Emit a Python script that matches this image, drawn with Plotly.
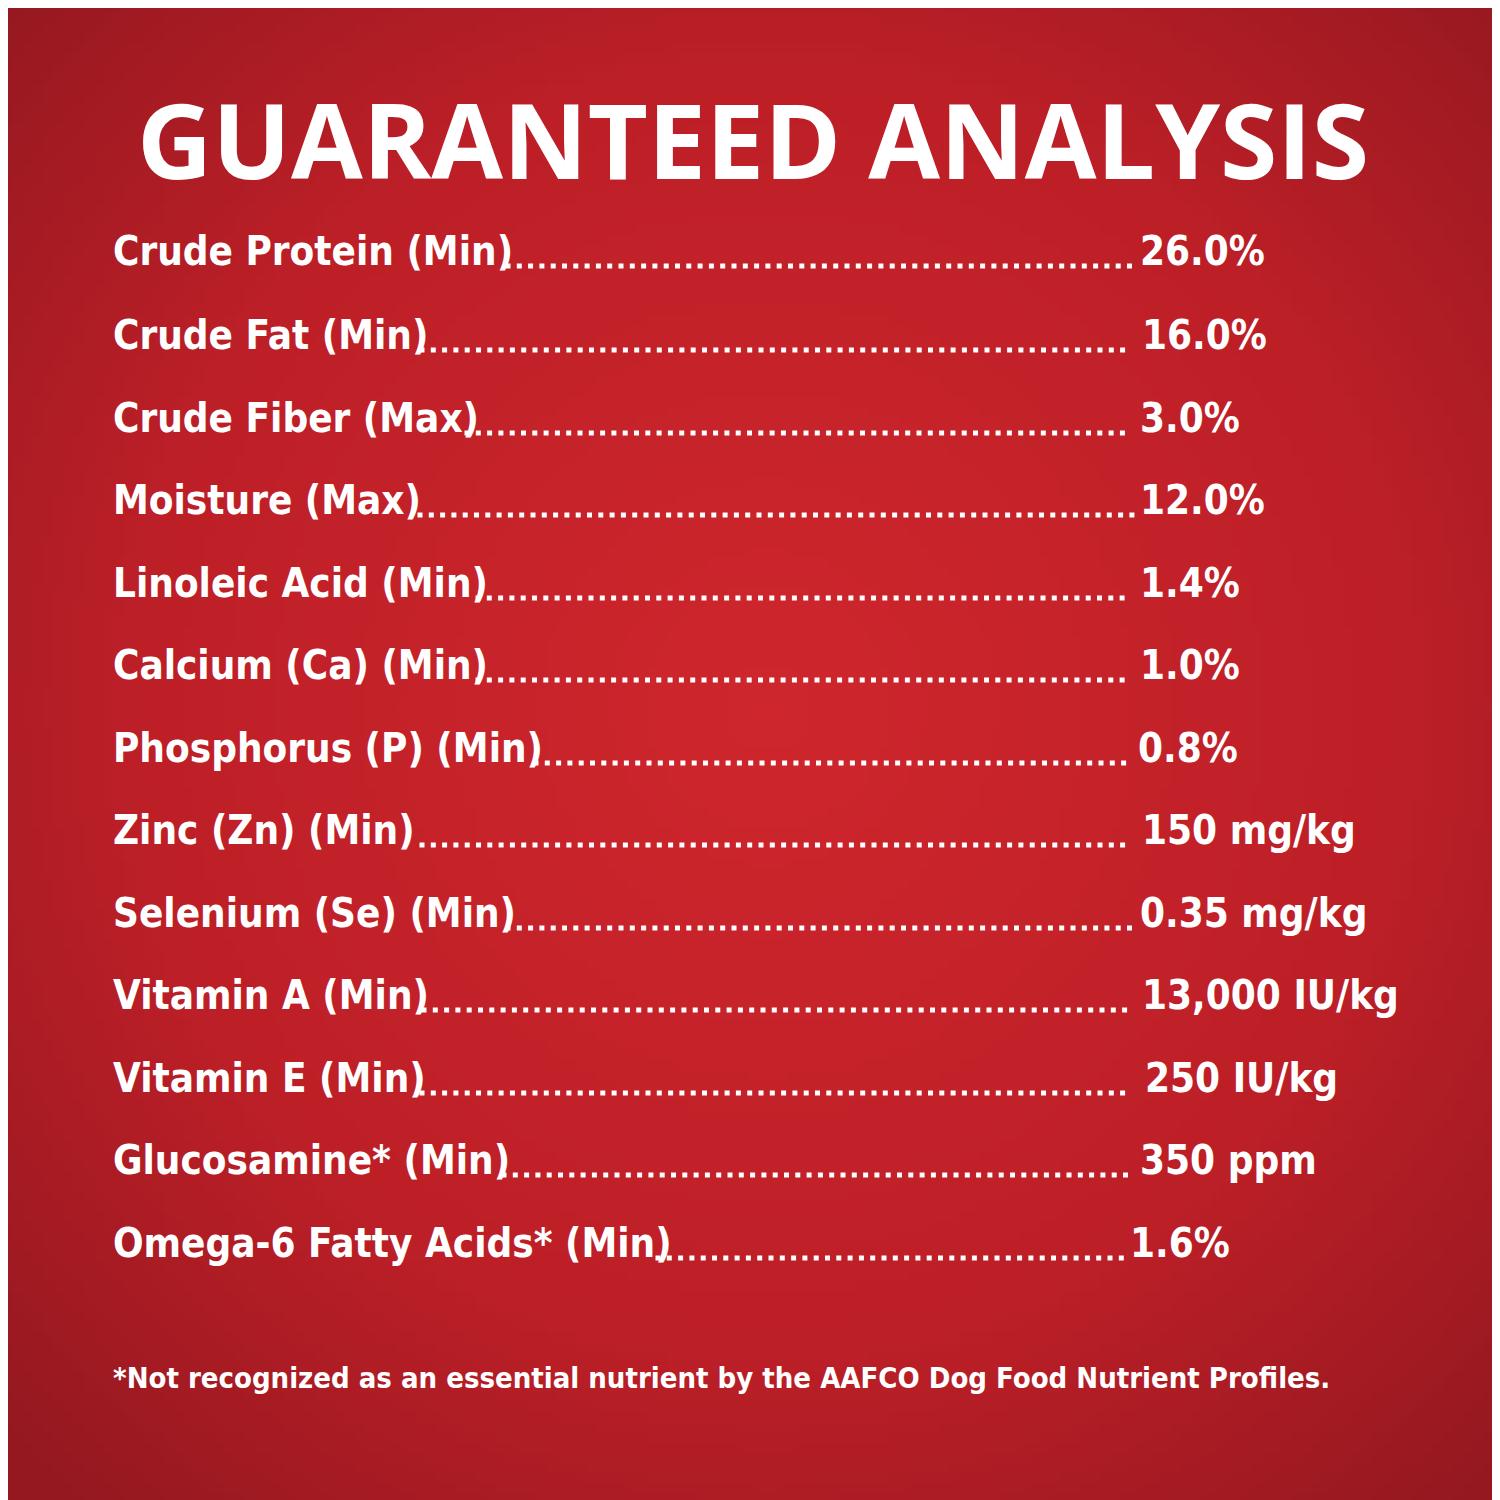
import numpy as np
import plotly.graph_objects as go

title = "GUARANTEED ANALYSIS"
labels = ["Crude Protein (Min)", "Crude Fat (Min)", "Crude Fiber (Max)", "Moisture (Max)",
          "Linoleic Acid (Min)", "Calcium (Ca) (Min)", "Phosphorus (P) (Min)", "Zinc (Zn) (Min)",
          "Selenium (Se) (Min)", "Vitamin A (Min)", "Vitamin E (Min)", "Glucosamine* (Min)",
          "Omega-6 Fatty Acids* (Min)"]
values = ["26.0%", "16.0%", "3.0%", "12.0%", "1.4%", "1.0%", "0.8%", "150 mg/kg",
          "0.35 mg/kg", "13,000 IU/kg", "250 IU/kg", "350 ppm", "1.6%"]
footnote = "*Not recognized as an essential nutrient by the AAFCO Dog Food Nutrient Profiles."

# layout styling (pixel positions)
row_y = [243, 327, 410, 492, 575, 657, 740, 822, 905, 987, 1070, 1152, 1235]
dot_start = [500, 414, 459, 412, 470, 470, 528, 414, 500, 416, 414, 496, 650]
val_x = [1130, 1132, 1130, 1130, 1130, 1130, 1128, 1132, 1130, 1132, 1135, 1130, 1120]
dot_end = 1124

fig = go.Figure()
n = 150
gx = np.linspace(0, 1500, n)
gy = np.linspace(0, 1500, n)
X, Y = np.meshgrid(gx, gy)
R = np.sqrt((X - 760) ** 2 + (Y - 700) ** 2) / 1000
fig.add_trace(go.Heatmap(x=gx, y=gy, z=R, showscale=False, hoverinfo="skip",
                         colorscale=[[0, "#cf262d"], [0.6, "#bd1f27"], [1, "#951820"]],
                         zmin=0, zmax=1.05))

font_row = dict(family="Liberation Sans Narrow, DejaVu Sans Condensed", size=40, color="white")
for lab, val, y, ds, vx in zip(labels, values, row_y, dot_start, val_x):
    fig.add_annotation(x=103, y=y, text=f"<b>{lab}</b>", xanchor="left", yanchor="middle",
                       showarrow=False, font=font_row)
    fig.add_annotation(x=vx, y=y, text=f"<b>{val}</b>", xanchor="left", yanchor="middle",
                       showarrow=False, font=font_row)
    xs = np.arange(ds, dot_end, 11.3)
    fig.add_trace(go.Scatter(x=xs, y=[y + 15] * len(xs), mode="markers", hoverinfo="skip",
                             marker=dict(symbol="square", size=5, color="white"), showlegend=False))

fig.add_annotation(x=745, y=130, text=f"<b>{title}</b>", xanchor="center", yanchor="middle",
                   showarrow=False, font=dict(family="Open Sans", size=104, color="white"))
fig.add_annotation(x=103, y=1370, text=f"<b>{footnote}</b>", xanchor="left", yanchor="middle",
                   showarrow=False, font=dict(family="Liberation Sans Narrow, DejaVu Sans Condensed",
                                              size=29, color="white"))

fig.update_layout(width=1500, height=1500, margin=dict(l=0, r=0, t=0, b=0),
                  paper_bgcolor="#b81e26", plot_bgcolor="#b81e26", showlegend=False,
                  xaxis=dict(range=[0, 1500], visible=False, fixedrange=True),
                  yaxis=dict(range=[1500, 0], visible=False, fixedrange=True))
fig.write_html("out.html")
